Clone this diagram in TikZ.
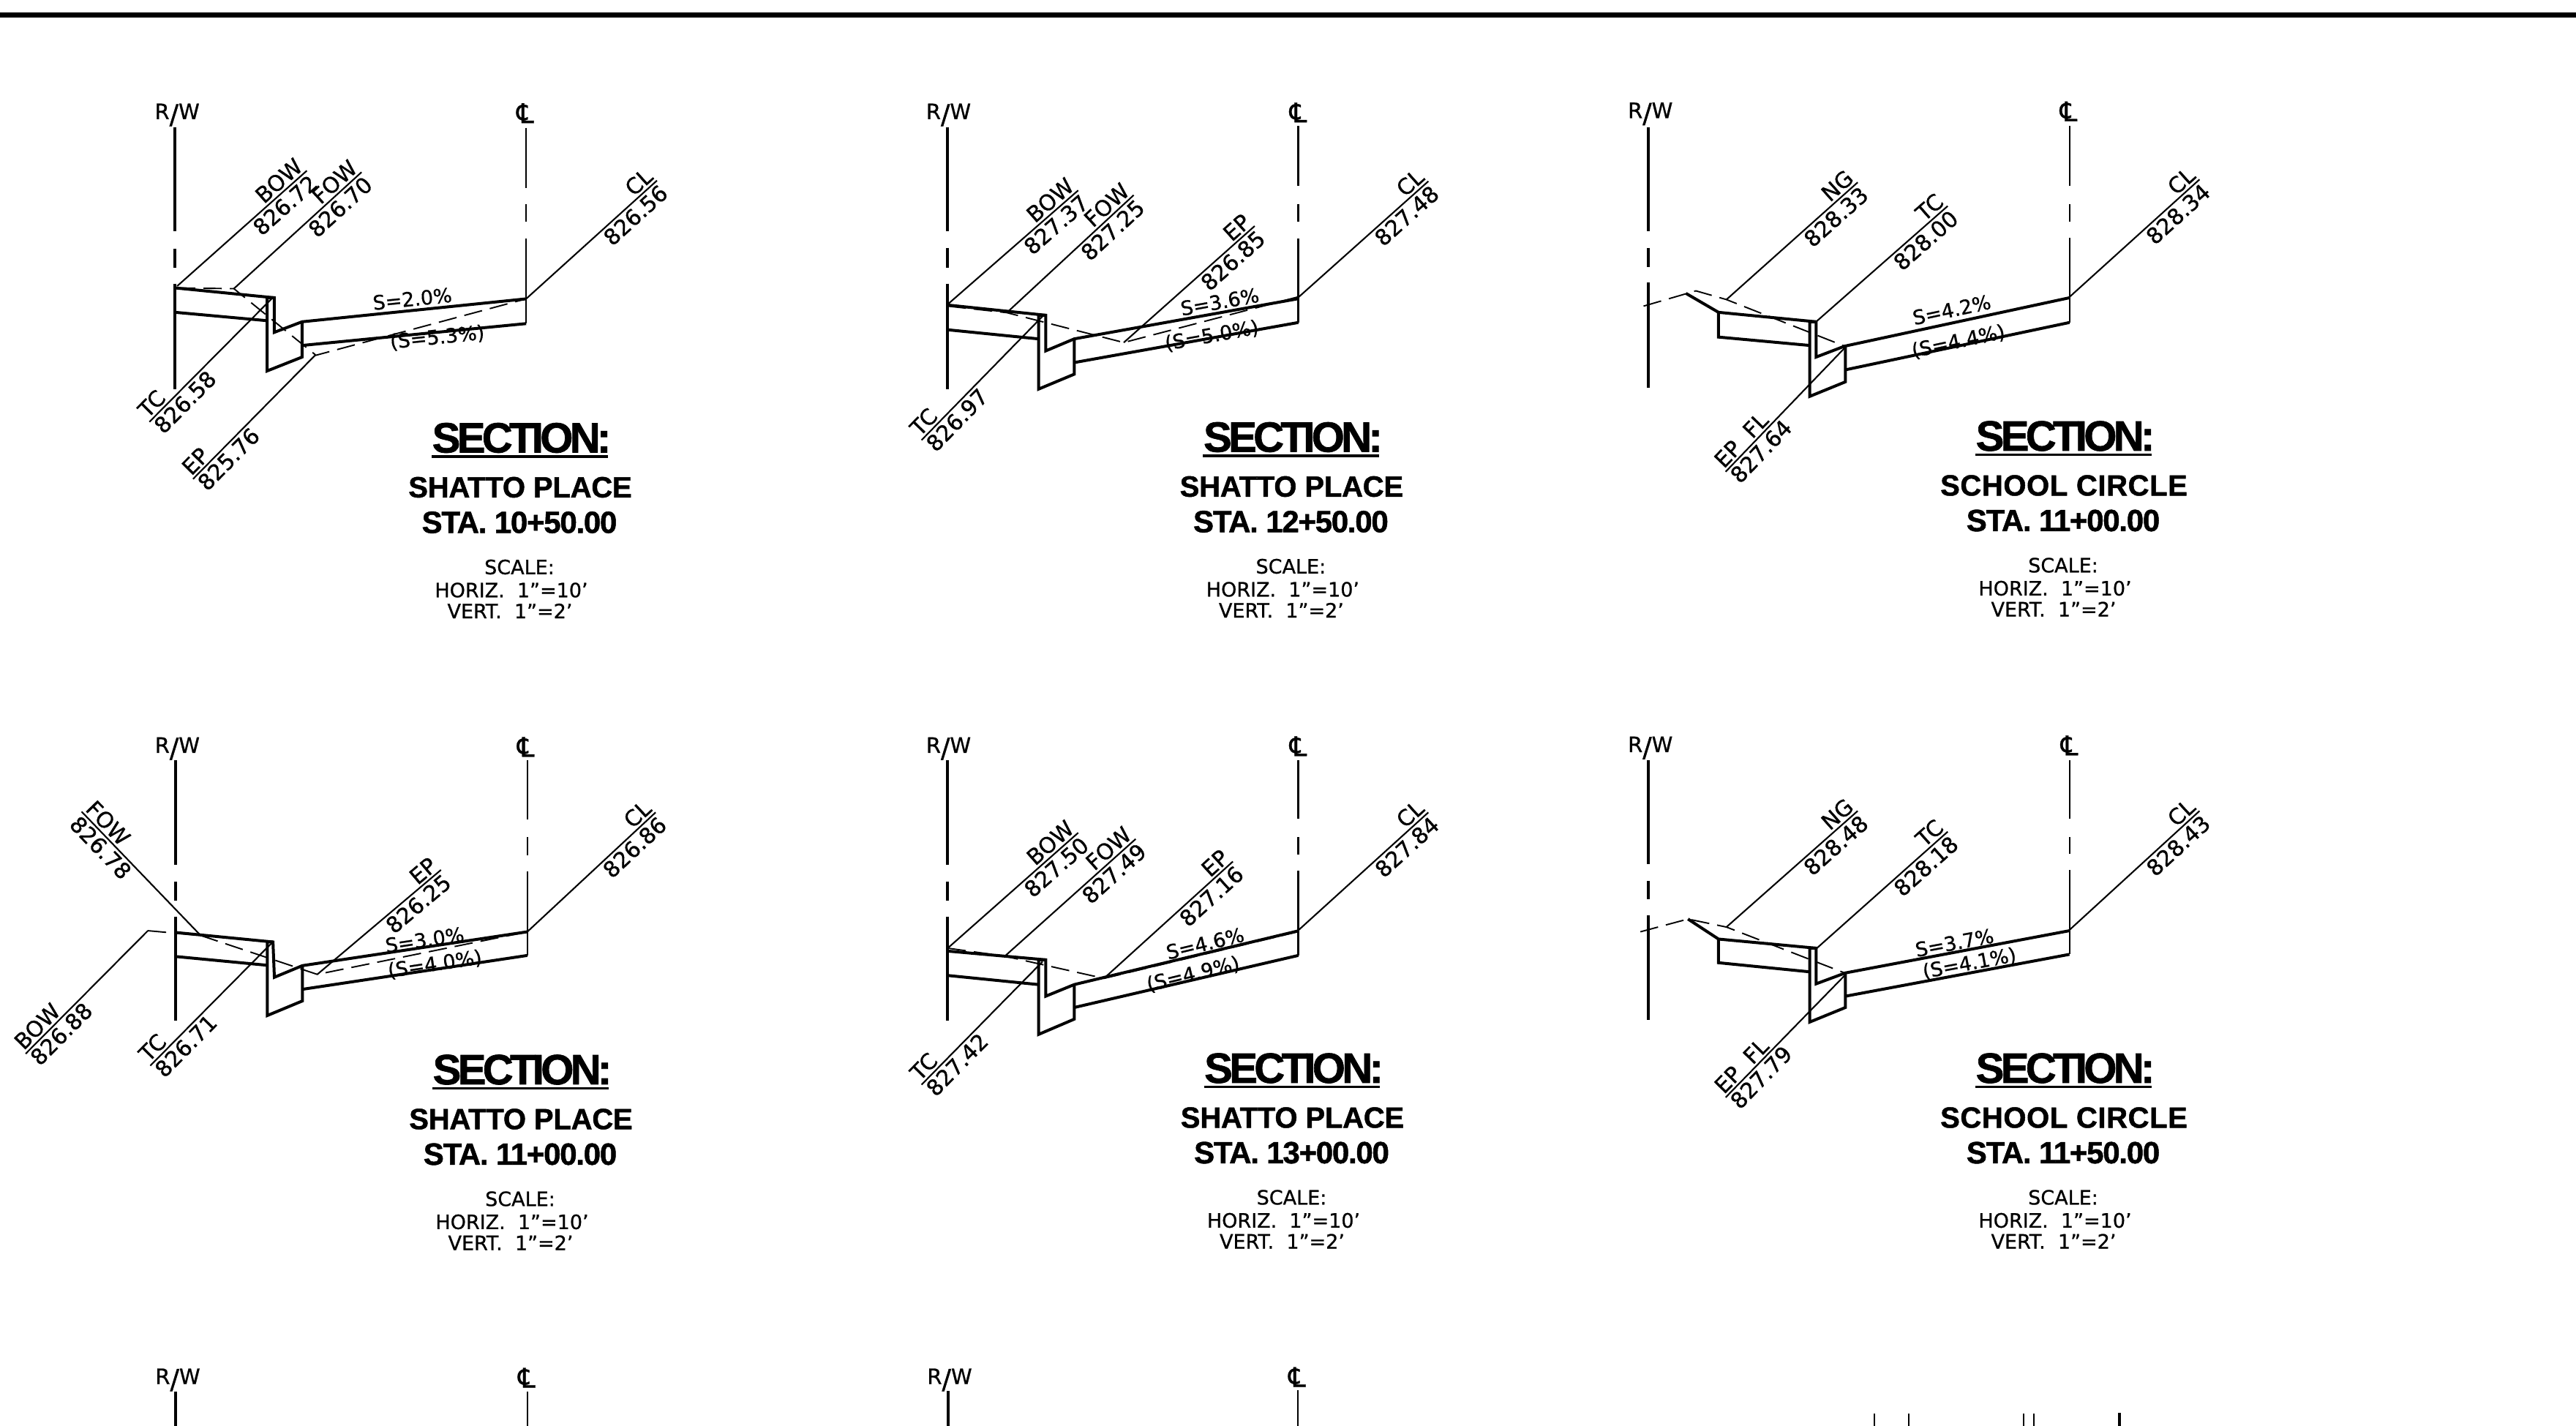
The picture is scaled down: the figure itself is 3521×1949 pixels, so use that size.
\documentclass[tikz,border=0pt]{standalone}
\usepackage{fontspec}
\setmainfont[FakeBold=0.8,AutoFakeBold=false]{DejaVu Sans}
\newfontfamily\ttlfont[LetterSpace=-8,FakeBold=1.2]{Liberation Sans Bold}
\newfontfamily\subfont[LetterSpace=-0.5,FakeBold=1.2]{Liberation Sans Bold}
\newfontfamily\stafont[LetterSpace=-3,FakeBold=1.2]{Liberation Sans Bold}
\newfontfamily\wsubfont[LetterSpace=1.5,FakeBold=1.2]{Liberation Sans Bold}
\newcount\lc
\newcommand{\RW}{R\raisebox{-0.22em}{\fontsize{37}{37}\selectfont/}W}
\tikzset{
  x=1pt,y=-1pt,
  heavy/.style={line width=4pt,line join=miter},
  light/.style={line width=2.1pt},
  ground/.style={line width=1.9pt,dash pattern=on 25pt off 11pt},
  zoomed/.style 2 args={shift={(#1,#2)},x=0.542pt,y=-0.4975pt},
  zoomedw/.style 2 args={shift={(#1,#2)},x=0.6378pt,y=-0.4975pt},
  callname/.style={inner xsep=0pt,inner ysep=3pt,font=\fontsize{30}{30}\selectfont},
  slopetxt/.style={inner sep=0pt,font=\fontsize{27}{27}\selectfont},
  marktxt/.style={inner sep=0pt,font=\fontsize{29}{29}\selectfont},
  cltxt/.style={inner sep=0pt,font=\fontsize{37}{37}\selectfont},
  scaletxt/.style={inner sep=0pt,font=\fontsize{27}{27}\selectfont},
  sectxt/.style={inner sep=0pt,font=\fontsize{58}{58}\ttlfont},
  subtxt/.style={inner sep=0pt,font=\fontsize{40}{40}\subfont},
  wsubtxt/.style={inner sep=0pt,font=\fontsize{40}{40}\wsubfont},
  statxt/.style={inner sep=0pt,font=\fontsize{42}{42}\stafont},
}
% leader whose free end is the right end of the text
\newcommand{\leadR}[4]{\global\advance\lc 1
  \coordinate (p\the\lc) at (#1); \coordinate (q\the\lc) at (#2);
  \draw[light] (p\the\lc) -- (q\the\lc)
    node[pos=1,sloped,anchor=south east,callname] (n\the\lc) {#3}
    node[pos=1,sloped,anchor=north east,callname] (v\the\lc) {#4};}
% leader whose free end is the left end of the text
\newcommand{\leadL}[4]{\global\advance\lc 1
  \coordinate (p\the\lc) at (#1); \coordinate (q\the\lc) at (#2);
  \draw[light] (p\the\lc) -- (q\the\lc)
    node[pos=1,sloped,anchor=south west,callname] (n\the\lc) {#3}
    node[pos=1,sloped,anchor=north west,callname] (v\the\lc) {#4};}
\newcommand{\slopes}[5]{\global\advance\lc 1
  \node[slopetxt,rotate=#1] (s\the\lc) at (#2) {#3};
  \node[slopetxt,rotate=#1] (t\the\lc) at (#4) {#5};}
% three-piece vertical: style, x, six y values
\newcommand{\brokenline}[8]{%
  \draw[#1] (#2,#3)--(#2,#4) (#2,#5)--(#2,#6) (#2,#7)--(#2,#8);}
\newcommand{\titleblock}[5]{\global\advance\lc 1
  \begin{scope}[shift={(#1,#2)}]
  \node[sectxt] (a\the\lc) at (1,0) {SECTION:};
  \coordinate (ul\the\lc) at (-122,25.5); \coordinate (ur\the\lc) at (118.5,25.5);
  \draw[line width=3.4pt] (ul\the\lc) -- (ur\the\lc);
  \node[#5] (b\the\lc) at (-1,67.5) {#3};
  \node[statxt] (c\the\lc) at (-2,115.5) {#4};
  \node[scaletxt] (d\the\lc) at (-2,176.5) {SCALE:};
  \node[scaletxt] (e\the\lc) at (-13,208) {HORIZ.\ \ 1"=10'};
  \node[scaletxt] (f\the\lc) at (-15,236.5) {VERT.\ \ 1"=2'};
  \end{scope}}
\begin{document}
\begin{tikzpicture}
\useasboundingbox (0,0) rectangle (3521,1949);
\fill[white] (0,0) rectangle (3521,1949);
\coordinate (topl) at (0,20); \coordinate (topr) at (3521,20);
\draw[line width=7pt] (topl) -- (topr);

% ---------- Section 1
\begin{scope}[zoomed={150}{100}]
\node[marktxt] (rw1) at (170,115) {\RW};
\node[cltxt] (cl1) at (1048,110) {℄};
\brokenline{heavy}{165}{148}{435}{482}{535}{578}{868}
\brokenline{light}{1050}{150}{315}{360}{408}{455}{688}
\draw[heavy] (165,590)--(415,617)--(415,712)--(485,683)--(1050,620);
\draw[heavy] (1050,688)--(485,748);
\draw[heavy] (485,683)--(485,780)--(397,818)--(397,617)--(415,617);
\draw[heavy] (165,657)--(397,680);
\draw[ground] (170,590)--(313,592)--(520,775)--(1050,620);
\leadR{170,585}{497,268}{BOW}{826.72}
\leadR{313,592}{635,272}{FOW}{826.70}
\leadR{1050,620}{1380,295}{CL}{826.56}
\leadL{408,620}{100,958}{TC}{826.58}
\leadL{518,775}{210,1115}{EP}{825.76}
\slopes{5.85}{763,620}{S=2.0\%}{826,727}{(S=5.3\%)}
\end{scope}
\titleblock{712}{598.5}{SHATTO PLACE}{STA. 10+50.00}{subtxt}

% ---------- Section 2
\begin{scope}[zoomed={1200}{100}]
\node[marktxt] (rw2) at (178,115) {\RW};
\node[cltxt] (cl2) at (1060,108) {℄};
\brokenline{heavy}{176}{148}{435}{480}{535}{578}{868}
\brokenline{light}{1060}{145}{310}{360}{408}{455}{685}
\draw[heavy] (176,637)--(423,665)--(423,763)--(495,730)--(1058,620);
\draw[heavy] (1060,685)--(495,795);
\draw[heavy] (495,730)--(495,827)--(405,868)--(405,665)--(423,665);
\draw[heavy] (176,705)--(405,730);
\draw[ground] (176,640)--(325,658)--(620,740)--(1058,615);
\leadR{176,635}{505,322}{BOW}{827.37}
\leadR{325,658}{645,335}{FOW}{827.25}
\leadR{620,740}{950,420}{EP}{826.85}
\leadR{1058,618}{1388,297}{CL}{827.48}
\leadL{415,668}{110,1008}{TC}{826.97}
\slopes{10.2}{862,628}{S=3.6\%}{842,722}{(S=5.0\%)}
\end{scope}
\titleblock{1766.4}{597.5}{SHATTO PLACE}{STA. 12+50.00}{subtxt}

% ---------- Section 3
\begin{scope}[zoomed={2150}{100}]
\node[marktxt] (rw3) at (195,112) {\RW};
\node[cltxt] (cl3) at (1250,105) {℄};
\brokenline{heavy}{190}{148}{435}{480}{532}{575}{865}
\brokenline{light}{1252}{145}{310}{360}{408}{452}{685}
\draw[heavy] (285,605)--(367,657)--(613,683)--(613,780)--(685,750)--(1252,617);
\draw[heavy] (367,657)--(367,725)--(597,748);
\draw[heavy] (1252,685)--(687,815);
\draw[heavy] (687,750)--(687,848)--(597,888)--(597,683)--(613,683);
\draw[ground] (178,640)--(310,598)--(387,622)--(685,750)--(800,723);
\leadR{387,622}{718,300}{NG}{828.33}
\leadR{613,683}{945,365}{TC}{828.00}
\leadR{1252,615}{1580,292}{CL}{828.34}
\leadL{685,755}{385,1095}{EP\ \ FL}{827.64}
\slopes{12.1}{955,650}{S=4.2\%}{972,738}{(S=4.4\%)}
\end{scope}
\titleblock{2822}{596}{SCHOOL CIRCLE}{STA. 11+00.00}{wsubtxt}

% ---------- Section 4
\begin{scope}[zoomedw={0}{980}]
\node[marktxt] (rw4) at (380,87) {\RW};
\node[cltxt] (cl4) at (1127,82) {℄};
\brokenline{heavy}{377}{118}{405}{452}{505}{548}{835}
\brokenline{light}{1130}{118}{282}{330}{380}{425}{655}
\draw[heavy] (377,592)--(585,618)--(588,715)--(648,683)--(1130,590);
\draw[heavy] (1130,655)--(648,748);
\draw[heavy] (648,683)--(648,780)--(573,820)--(573,618)--(585,618);
\draw[heavy] (377,658)--(573,682);
\draw[ground] (317,587)--(430,600)--(680,707)--(1130,590);
\leadL{317,587}{55,925}{BOW}{826.88}
\leadL{583,620}{322,958}{TC}{826.71}
\leadL{430,600}{175,260}{FOW}{826.78}
\leadR{680,707}{945,420}{EP}{826.25}
\leadR{1130,590}{1405,262}{CL}{826.86}
\slopes{8.5}{910,612}{S=3.0\%}{932,680}{(S=4.0\%)}
\end{scope}
\titleblock{713}{1462}{SHATTO PLACE}{STA. 11+00.00}{subtxt}

% ---------- Section 5
\begin{scope}[zoomed={1200}{980}]
\node[marktxt] (rw5) at (178,87) {\RW};
\node[cltxt] (cl5) at (1060,80) {℄};
\brokenline{heavy}{176}{118}{405}{452}{505}{548}{835}
\brokenline{light}{1060}{118}{280}{330}{378}{422}{655}
\draw[heavy] (176,643)--(423,667)--(423,767)--(495,735)--(1058,588);
\draw[heavy] (1060,655)--(495,798);
\draw[heavy] (495,735)--(495,830)--(405,872)--(405,667)--(423,667);
\draw[heavy] (176,710)--(405,735);
\draw[ground] (176,635)--(320,657)--(570,718)--(1058,590);
\leadR{176,635}{505,318}{BOW}{827.50}
\leadR{320,657}{650,335}{FOW}{827.49}
\leadR{570,718}{895,397}{EP}{827.16}
\leadR{1058,588}{1388,262}{CL}{827.84}
\leadL{415,672}{110,1010}{TC}{827.42}
\slopes{13.5}{825,622}{S=4.6\%}{795,707}{(S=4.9\%)}
\end{scope}
\titleblock{1767.5}{1460}{SHATTO PLACE}{STA. 13+00.00}{subtxt}

% ---------- Section 6
\begin{scope}[zoomed={2150}{980}]
\node[marktxt] (rw6) at (195,85) {\RW};
\node[cltxt] (cl6) at (1252,78) {℄};
\brokenline{heavy}{190}{118}{403}{450}{500}{545}{832}
\brokenline{light}{1252}{118}{280}{330}{375}{420}{652}
\draw[heavy] (290,555)--(367,610)--(613,635)--(613,733)--(687,703)--(1252,587);
\draw[heavy] (367,610)--(367,675)--(597,700);
\draw[heavy] (1252,652)--(687,767);
\draw[heavy] (687,703)--(687,798)--(597,838)--(597,635)--(613,635);
\draw[ground] (170,590)--(290,555)--(387,577)--(685,703)--(900,660);
\leadR{387,577}{718,258}{NG}{828.48}
\leadR{615,635}{945,315}{TC}{828.18}
\leadR{1252,585}{1580,258}{CL}{828.43}
\leadL{687,708}{385,1045}{EP\ \ FL}{827.79}
\slopes{10.6}{962,620}{S=3.7\%}{1000,678}{(S=4.1\%)}
\end{scope}
\titleblock{2822}{1460}{SCHOOL CIRCLE}{STA. 11+50.00}{wsubtxt}

% ---------- Bottom row, cut off by the sheet
\node[marktxt] (rw7) at (243,1886) {\RW};
\node[cltxt] (cl7) at (720,1883) {℄};
\draw[heavy] (240,1902)--(240,1949);
\draw[light] (721,1902)--(721,1949);
\node[marktxt] (rw8) at (1298,1886) {\RW};
\node[cltxt] (cl8) at (1773,1882) {℄};
\draw[heavy] (1295.6,1901)--(1295.6,1949);
\draw[light] (1774,1900)--(1774,1949);
\draw[light] (2562,1932)--(2562,1949) (2609,1932)--(2609,1949)
  (2766,1932)--(2766,1949) (2780,1932)--(2780,1949);
\draw[heavy] (2897,1931)--(2897,1949);
\end{tikzpicture}
\end{document}
